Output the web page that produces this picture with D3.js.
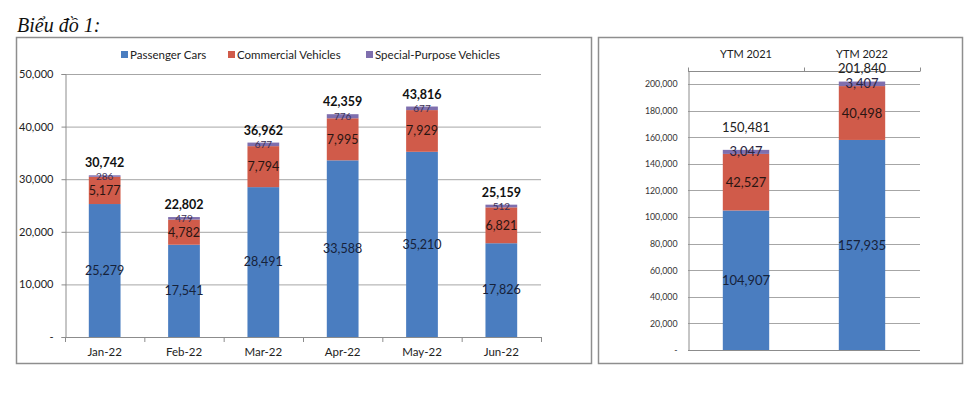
<!DOCTYPE html>
<html>
<head>
<meta charset="utf-8">
<script src="https://cdn.jsdelivr.net/npm/d3@7"></script>
<style>
  html, body { margin: 0; padding: 0; background: #fff; }
  svg { display: block; }
</style>
</head>
<body>
<div id="chart"></div>
<script>
// ---- data ----
const seriesNames = ["Passenger Cars", "Commercial Vehicles", "Special-Purpose Vehicles"];
const seriesKeys = ["passenger", "commercial", "special"];

const months = ["Jan-22", "Feb-22", "Mar-22", "Apr-22", "May-22", "Jun-22"];
const monthPassenger = [25279, 17541, 28491, 33588, 35210, 17826];
const monthCommercial = [5177, 4782, 7794, 7995, 7929, 6821];
const monthSpecial = [286, 479, 677, 776, 677, 512];
const monthTotals = [30742, 22802, 36962, 42359, 43816, 25159];

const ytmLabels = ["YTM 2021", "YTM 2022"];
const ytmPassenger = [104907, 157935];
const ytmCommercial = [42527, 40498];
const ytmSpecial = [3047, 3407];
const ytmTotals = [150481, 201840];

const leftTicks = [0, 10000, 20000, 30000, 40000, 50000];
const rightTicks = [0, 20000, 40000, 60000, 80000, 100000, 120000, 140000, 160000, 180000, 200000];

// ---- style ----
const colors = ["#4a7dc0", "#d05b4a", "#7f6fae"];
const FONT = "Lato, 'Open Sans', sans-serif";
const fmt = d3.format(",");
const tickFmt = d => d === 0 ? "-" : fmt(d);

const svg = d3.select("#chart").append("svg")
  .attr("width", 980).attr("height", 404)
  .style("background", "#fff");

// title
svg.append("text")
  .attr("x", 17).attr("y", 32)
  .text("Biểu đồ 1:")
  .style("font-family", "'Liberation Serif', 'DejaVu Serif', serif")
  .style("font-style", "italic")
  .style("font-size", "20px")
  .style("fill", "#111");

// frames
svg.append("rect").attr("x", 16.5).attr("y", 37.5).attr("width", 575).attr("height", 326)
  .attr("fill", "none").attr("stroke", "#8e8e8e").attr("stroke-width", 1.5);
svg.append("rect").attr("x", 598.5).attr("y", 37.5).attr("width", 364).attr("height", 326)
  .attr("fill", "none").attr("stroke", "#8e8e8e").attr("stroke-width", 1.5);

function buildRows(cats, a, b, c) {
  return cats.map((cat, i) => ({ cat, passenger: a[i], commercial: b[i], special: c[i] }));
}

const stack = d3.stack().keys(seriesKeys);

// ================= left chart =================
const L = { x0: 65, x1: 541, y0: 337, y1: 74 };
const monthRows = buildRows(months, monthPassenger, monthCommercial, monthSpecial);
const lx = d3.scaleBand().domain(months).range([L.x0, L.x1]).paddingInner(0.6).paddingOuter(0.3);
const ly = d3.scaleLinear().domain([0, 50000]).range([L.y0, L.y1]);
const lStep = lx.step();

const left = svg.append("g");

// gridlines
left.append("g").selectAll("line")
  .data(leftTicks.filter(d => d > 0)).enter().append("line")
  .attr("x1", L.x0).attr("x2", L.x1)
  .attr("y1", d => ly(d) + 0.5).attr("y2", d => ly(d) + 0.5)
  .attr("stroke", "#a6a6a6").attr("stroke-width", 1);

// y axis
const lAxis = left.append("g")
  .attr("transform", `translate(${L.x0 + 0.5},0)`)
  .call(d3.axisLeft(ly).tickValues(leftTicks).tickFormat(tickFmt).tickSize(4).tickPadding(8));
lAxis.select(".domain").attr("stroke", "#8c8c8c");
lAxis.selectAll(".tick line").attr("stroke", "#8c8c8c");
lAxis.selectAll("text").style("font-family", FONT).style("font-size", "11px").style("fill", "#222");

// x axis
left.append("line").attr("x1", L.x0).attr("x2", L.x1)
  .attr("y1", L.y0 + 0.5).attr("y2", L.y0 + 0.5).attr("stroke", "#8c8c8c");
left.append("g").selectAll("line")
  .data(d3.range(months.length + 1)).enter().append("line")
  .attr("x1", i => L.x0 + i * lStep + 0.5).attr("x2", i => L.x0 + i * lStep + 0.5)
  .attr("y1", L.y0).attr("y2", L.y0 + 5)
  .attr("stroke", "#8c8c8c");
left.append("g").selectAll("text")
  .data(months).enter().append("text")
  .attr("x", d => lx(d) + lx.bandwidth() / 2)
  .attr("y", L.y0 + 19)
  .attr("text-anchor", "middle")
  .text(d => d)
  .style("font-family", FONT).style("font-size", "11.5px").style("fill", "#222");

// bars
const lStacked = stack(monthRows);
lStacked.forEach((layer, si) => {
  left.append("g").selectAll("rect")
    .data(layer).enter().append("rect")
    .attr("x", d => lx(d.data.cat))
    .attr("width", lx.bandwidth())
    .attr("y", d => ly(d[1]))
    .attr("height", d => ly(d[0]) - ly(d[1]))
    .attr("fill", colors[si]);
});

// segment labels
lStacked.forEach((layer, si) => {
  left.append("g").selectAll("text")
    .data(layer).enter().append("text")
    .attr("x", d => lx(d.data.cat) + lx.bandwidth() / 2)
    .attr("y", d => (ly(d[0]) + ly(d[1])) / 2)
    .attr("dy", "0.35em")
    .attr("text-anchor", "middle")
    .text(d => fmt(d[1] - d[0]))
    .style("font-family", FONT)
    .style("font-size", si === 2 ? "10px" : "12.5px")
    .style("fill", si === 0 ? "#16223a" : (si === 2 ? "#3a2f55" : "#2a1512"));
});

// totals
left.append("g").selectAll("text")
  .data(months).enter().append("text")
  .attr("x", d => lx(d) + lx.bandwidth() / 2)
  .attr("y", (d, i) => ly(monthTotals[i]) - 8)
  .attr("text-anchor", "middle")
  .text((d, i) => fmt(monthTotals[i]))
  .style("font-family", FONT).style("font-size", "12.5px").style("font-weight", "bold").style("fill", "#111");

// legend
const legendX = [121, 228, 366];
const legend = left.append("g");
seriesNames.forEach((name, i) => {
  legend.append("rect").attr("x", legendX[i]).attr("y", 51).attr("width", 7).attr("height", 7)
    .attr("fill", colors[i]);
  legend.append("text").attr("x", legendX[i] + 9).attr("y", 58.5)
    .text(name)
    .style("font-family", FONT).style("font-size", "11.5px").style("fill", "#222");
});

// ================= right chart =================
const R = { x0: 688, x1: 920, y0: 350 };
const ytmRows = buildRows(ytmLabels, ytmPassenger, ytmCommercial, ytmSpecial);
const rx = d3.scaleBand().domain(ytmLabels).range([R.x0, R.x1]).paddingInner(0.6).paddingOuter(0.3);
const ry = d3.scaleLinear().domain([0, 210000]).range([R.y0, 70.7]);
const rStep = rx.step();
const totalDy = [-22, -13];

const right = svg.append("g");

right.append("g").selectAll("line")
  .data(rightTicks.filter(d => d > 0)).enter().append("line")
  .attr("x1", R.x0).attr("x2", R.x1)
  .attr("y1", d => Math.round(ry(d)) + 0.5).attr("y2", d => Math.round(ry(d)) + 0.5)
  .attr("stroke", "#a6a6a6");

const rAxis = right.append("g")
  .attr("transform", `translate(${R.x0 + 0.5},0)`)
  .call(d3.axisLeft(ry).tickValues(rightTicks).tickFormat(tickFmt).tickSize(0).tickPadding(11));
rAxis.select(".domain").attr("stroke", "#8c8c8c");
rAxis.selectAll("text").style("font-family", FONT).style("font-size", "8.8px").style("fill", "#333");

// bottom and top (category) axis lines
right.append("line").attr("x1", R.x0).attr("x2", R.x1)
  .attr("y1", R.y0 + 0.5).attr("y2", R.y0 + 0.5).attr("stroke", "#8c8c8c");
const topY = Math.round(ry(210000)) + 0.5;
right.append("line").attr("x1", R.x0).attr("x2", R.x1)
  .attr("y1", topY).attr("y2", topY).attr("stroke", "#8c8c8c");
right.append("g").selectAll("line")
  .data(d3.range(ytmLabels.length + 1)).enter().append("line")
  .attr("x1", i => R.x0 + i * rStep + 0.5).attr("x2", i => R.x0 + i * rStep + 0.5)
  .attr("y1", topY - 4).attr("y2", topY)
  .attr("stroke", "#8c8c8c");
right.append("g").selectAll("text")
  .data(ytmLabels).enter().append("text")
  .attr("x", d => rx(d) + rx.bandwidth() / 2)
  .attr("y", 58)
  .attr("text-anchor", "middle")
  .text(d => d)
  .style("font-family", FONT).style("font-size", "11px").style("fill", "#222");

const rStacked = stack(ytmRows);
rStacked.forEach((layer, si) => {
  right.append("g").selectAll("rect")
    .data(layer).enter().append("rect")
    .attr("x", d => rx(d.data.cat))
    .attr("width", rx.bandwidth())
    .attr("y", d => ry(d[1]))
    .attr("height", d => ry(d[0]) - ry(d[1]))
    .attr("fill", colors[si]);
});
rStacked.forEach((layer, si) => {
  right.append("g").selectAll("text")
    .data(layer).enter().append("text")
    .attr("x", d => rx(d.data.cat) + rx.bandwidth() / 2)
    .attr("y", d => (ry(d[0]) + ry(d[1])) / 2)
    .attr("dy", "0.35em")
    .attr("text-anchor", "middle")
    .text(d => fmt(d[1] - d[0]))
    .style("font-family", FONT)
    .style("font-size", "13px")
    .style("fill", si === 0 ? "#16223a" : (si === 2 ? "#2b2540" : "#2a1512"));
});
right.append("g").selectAll("text")
  .data(ytmLabels).enter().append("text")
  .attr("x", d => rx(d) + rx.bandwidth() / 2)
  .attr("y", (d, i) => ry(ytmTotals[i]) + totalDy[i])
  .attr("dy", "0.35em")
  .attr("text-anchor", "middle")
  .text((d, i) => fmt(ytmTotals[i]))
  .style("font-family", FONT).style("font-size", "13px").style("fill", "#222");
</script>
</body>
</html>
